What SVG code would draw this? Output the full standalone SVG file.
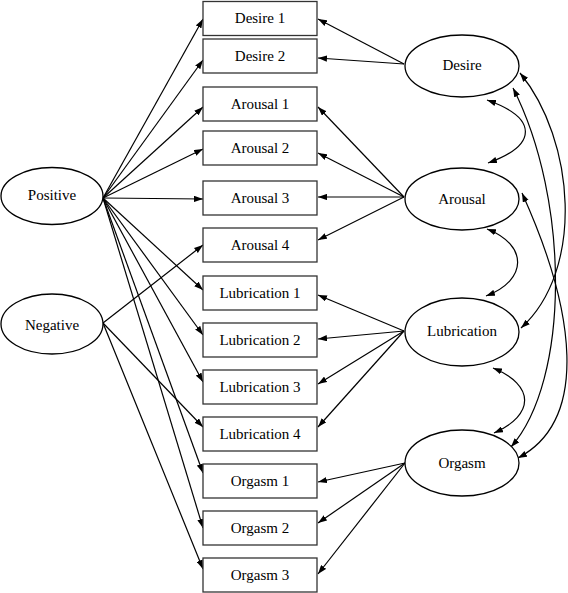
<svg xmlns="http://www.w3.org/2000/svg" width="568" height="593" viewBox="0 0 568 593" font-family="'Liberation Serif', 'DejaVu Serif', serif">
<defs>
<style>
.box{fill:#fff;stroke:#333;stroke-width:1.3}
.ell{fill:#fff;stroke:#000;stroke-width:1.3}
text{font-family:'Liberation Serif','Times New Roman','DejaVu Serif',serif;font-size:15px;fill:#000;text-anchor:middle}
.c path,.c line{fill:none;stroke:#000;stroke-width:1.2}
.one{marker-end:url(#a)}
.two{marker-start:url(#a);marker-end:url(#a)}
</style>
<marker id="a" viewBox="0 0 10 7" refX="10" refY="3.5" markerWidth="9" markerHeight="6.5" markerUnits="userSpaceOnUse" orient="auto-start-reverse"><path d="M0,0 L10,3.5 L0,7 z" fill="#000"/></marker>
</defs>
<rect width="568" height="593" fill="#fff"/>
<g class="c" id="connectors">
<line class="one" x1="103" y1="198" x2="203" y2="19"/>
<line class="one" x1="103" y1="198" x2="203" y2="60"/>
<line class="one" x1="103" y1="198" x2="203" y2="107"/>
<line class="one" x1="103" y1="198" x2="203" y2="149"/>
<line class="one" x1="103" y1="198" x2="203" y2="199"/>
<line class="one" x1="103" y1="198" x2="203" y2="290"/>
<line class="one" x1="103" y1="198" x2="203" y2="335"/>
<line class="one" x1="103" y1="198" x2="203" y2="382"/>
<line class="one" x1="103" y1="198" x2="203" y2="473"/>
<line class="one" x1="103" y1="198" x2="203" y2="528"/>
<line class="one" x1="103" y1="323" x2="203" y2="245"/>
<line class="one" x1="103" y1="323" x2="203" y2="427"/>
<line class="one" x1="103" y1="323" x2="203" y2="569"/>
<line class="one" x1="404" y1="64" x2="318" y2="19"/>
<line class="one" x1="404" y1="64" x2="318" y2="58"/>
<line class="one" x1="404" y1="197" x2="318" y2="107"/>
<line class="one" x1="404" y1="197" x2="318" y2="153"/>
<line class="one" x1="404" y1="197" x2="318" y2="197"/>
<line class="one" x1="404" y1="197" x2="318" y2="240"/>
<line class="one" x1="404" y1="331" x2="318" y2="295"/>
<line class="one" x1="404" y1="331" x2="318" y2="339"/>
<line class="one" x1="404" y1="331" x2="318" y2="384"/>
<line class="one" x1="404" y1="331" x2="318" y2="427"/>
<line class="one" x1="405" y1="463" x2="318" y2="482"/>
<line class="one" x1="405" y1="463" x2="318" y2="523"/>
<line class="one" x1="405" y1="463" x2="318" y2="574"/>
<path class="two" d="M487,100 C538,118 538,145 488,163"/>
<path class="two" d="M487,229 C528,245 528,280 486,296"/>
<path class="two" d="M493,368 C535,385 535,415 494,433"/>
<path class="two" d="M520,73 C575,140 585,270 521,328"/>
<path class="two" d="M513,88 C570,200 570,380 511,447"/>
<path class="two" d="M522,193 C575,310 590,420 518,458"/>
</g>
<g id="desire1"><rect class="box" x="203" y="1.5" width="114" height="34"/><text x="260" y="23" font-family="Liberation Serif, serif">Desire 1</text></g>
<g id="desire2"><rect class="box" x="203" y="39" width="114" height="34"/><text x="260" y="61">Desire 2</text></g>
<g id="arousal1"><rect class="box" x="203" y="87" width="114" height="34"/><text x="260" y="109">Arousal 1</text></g>
<g id="arousal2"><rect class="box" x="203" y="131" width="114" height="34"/><text x="260" y="153">Arousal 2</text></g>
<g id="arousal3"><rect class="box" x="203" y="181" width="114" height="34"/><text x="260" y="203">Arousal 3</text></g>
<g id="arousal4"><rect class="box" x="203" y="228" width="114" height="34"/><text x="260" y="250">Arousal 4</text></g>
<g id="lubrication1"><rect class="box" x="203" y="276" width="114" height="34"/><text x="260" y="298">Lubrication 1</text></g>
<g id="lubrication2"><rect class="box" x="203" y="323" width="114" height="34"/><text x="260" y="345">Lubrication 2</text></g>
<g id="lubrication3"><rect class="box" x="203" y="370" width="114" height="34"/><text x="260" y="392">Lubrication 3</text></g>
<g id="lubrication4"><rect class="box" x="203" y="417" width="114" height="34"/><text x="260" y="439">Lubrication 4</text></g>
<g id="orgasm1"><rect class="box" x="203" y="464" width="114" height="34"/><text x="260" y="486">Orgasm 1</text></g>
<g id="orgasm2"><rect class="box" x="203" y="511" width="114" height="34"/><text x="260" y="533">Orgasm 2</text></g>
<g id="orgasm3"><rect class="box" x="203" y="558" width="114" height="34"/><text x="260" y="580">Orgasm 3</text></g>
<g id="positive"><ellipse class="ell" cx="52" cy="196" rx="51" ry="28.5"/><text x="52" y="200">Positive</text></g>
<g id="negative"><ellipse class="ell" cx="52" cy="324" rx="51" ry="30"/><text x="52" y="330">Negative</text></g>
<g id="desire"><ellipse class="ell" cx="462" cy="66" rx="57" ry="31"/><text x="462" y="70">Desire</text></g>
<g id="arousal"><ellipse class="ell" cx="462" cy="199" rx="57" ry="31"/><text x="462" y="204">Arousal</text></g>
<g id="lubrication"><ellipse class="ell" cx="462" cy="332" rx="57" ry="34"/><text x="462" y="336">Lubrication</text></g>
<g id="orgasm"><ellipse class="ell" cx="462" cy="463" rx="57" ry="33"/><text x="462" y="468">Orgasm</text></g>
</svg>
